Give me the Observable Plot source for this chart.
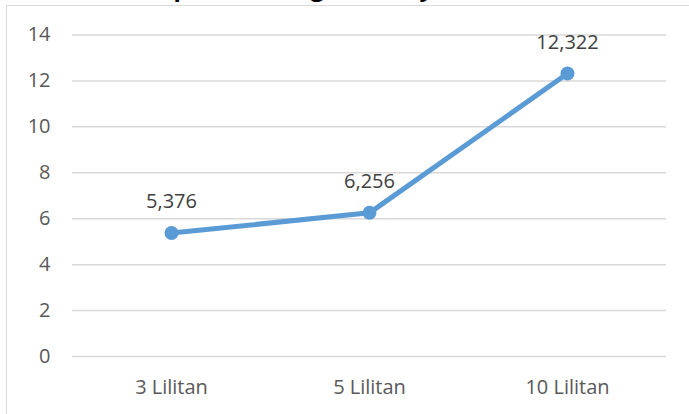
<!DOCTYPE html>
<html>
<head>
<meta charset="utf-8">
<script src="https://cdn.jsdelivr.net/npm/d3@7"></script>
<script src="https://cdn.jsdelivr.net/npm/@observablehq/plot@0.6"></script>
<style>
  html, body { margin: 0; padding: 0; background: #fff; }
  #wrap { position: relative; width: 689px; height: 414px; overflow: hidden; font-family: "Open Sans", sans-serif; }
  #border { position: absolute; left: 6px; top: 5px; width: 2000px; height: 2000px; border-left: 1.5px solid #d9d9d9; border-top: 1.5px solid #d9d9d9; }
  #chart { position: absolute; left: 0; top: 0; }
</style>
</head>
<body>
<div id="wrap">
  <div id="border"></div>
  <div id="chart"></div>
</div>
<script>
// Number of coil windings and the measured value for each
const categories = ["3 Lilitan", "5 Lilitan", "10 Lilitan"];
const values = [5.376, 6.256, 12.322];
const yTicks = [0, 2, 4, 6, 8, 10, 12, 14];
const title = "Grafik Kapasitas Pengisian Daya";

const data = categories.map((c, i) => ({category: c, value: values[i]}));
const fmt = (v) => String(v).replace(".", ",");

const blue = "#5b9bd5";

const chart = Plot.plot({
  width: 689,
  height: 414,
  marginLeft: 72,
  marginRight: 23,
  marginTop: 34.5,
  marginBottom: 58,
  style: {background: "transparent", fontFamily: "'Open Sans', sans-serif", color: "#595959", overflow: "visible"},
  x: {type: "point", domain: categories, padding: 0.5, align: 0.5},
  y: {domain: [0, 14]},
  marks: [
    Plot.gridY(yTicks, {stroke: "#d9d9d9", strokeOpacity: 1, strokeWidth: 1.5}),
    Plot.axisY(yTicks, {tickSize: 0, tickPadding: 22, fontSize: 20, label: null}),
    Plot.axisX({tickSize: 0, tickPadding: 23, fontSize: 20, label: null}),
    Plot.line(data, {x: "category", y: "value", stroke: blue, strokeWidth: 5, strokeLinecap: "round", strokeLinejoin: "round"}),
    Plot.dot(data, {x: "category", y: "value", r: 7, fill: blue, stroke: "none"}),
    Plot.text(data, {x: "category", y: "value", text: (d) => fmt(d.value), dy: -31, fontSize: 20, fill: "#404040"})
  ]
});

// Chart title, bold, sitting at the top edge of the chart area
const ctx = document.createElement("canvas").getContext("2d");
ctx.font = "bold 24px 'Open Sans'";
const lead = ctx.measureText("Grafik Ka").width;
d3.select(chart).append("text")
  .attr("x", 366 - lead)
  .attr("y", -4)
  .attr("font-family", "'Open Sans', sans-serif")
  .attr("font-weight", "bold")
  .attr("font-size", 24)
  .attr("fill", "#000")
  .text(title);

document.getElementById("chart").appendChild(chart);
</script>
</body>
</html>
